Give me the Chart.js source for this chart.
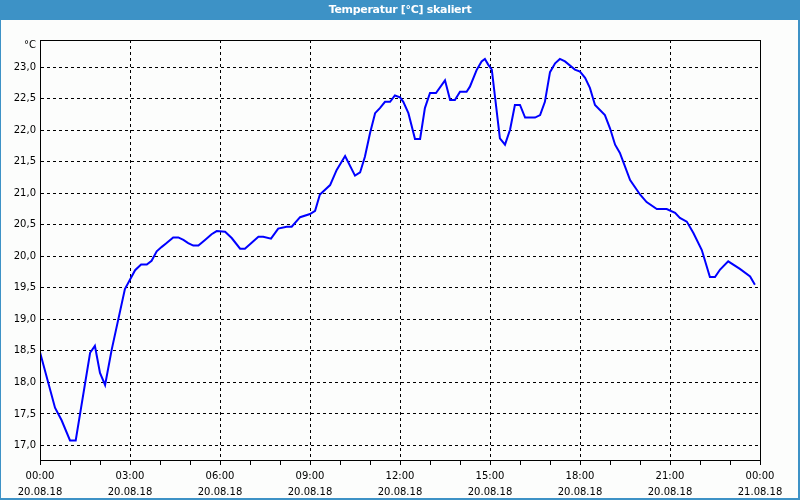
<!DOCTYPE html>
<html>
<head>
<meta charset="utf-8">
<script src="https://cdn.jsdelivr.net/npm/chart.js@4"></script>
<style>
  body { margin: 0; }
  #frame { position: relative; width: 800px; height: 500px; background: #3d92c6; overflow: hidden; }
  #title { position: absolute; left: 0; top: 0; width: 800px; height: 20px; text-align: center;
           color: #fff; font: bold 11px "DejaVu Sans", sans-serif; line-height: 20px; letter-spacing: -0.3px; z-index: 3; }
  #panel { position: absolute; left: 1px; top: 20px; right: 2px; bottom: 2px; background: #fcfdfc; }
  #unit { position: absolute; left: 24px; top: 39px; font: 10px "DejaVu Sans", sans-serif; line-height: 12px; color: #000; z-index: 3; }
  canvas { position: absolute; left: 0; top: 0; z-index: 2; }
</style>
</head>
<body>
<div id="frame">
  <div id="panel"></div>
  <div id="title">Temperatur [°C] skaliert</div>
  <div id="unit">°C</div>
  <canvas id="chart" width="800" height="500"></canvas>
</div>
<script>
// --- Data (hours since 20.08.18 00:00, °C) ---
const hours = [
  0.00, 0.50, 0.72, 1.00, 1.19, 1.67, 1.83, 2.00, 2.17, 2.39, 2.83, 3.17, 3.37, 3.56, 3.72, 3.89,
  4.06, 4.22, 4.44, 4.61, 4.78, 4.94, 5.11, 5.28, 5.50, 5.72, 5.89, 6.17, 6.39, 6.67, 6.83, 7.28,
  7.44, 7.70, 7.94, 8.22, 8.39, 8.67, 9.00, 9.17, 9.33, 9.67, 9.89, 10.17, 10.50, 10.67, 10.83, 11.00,
  11.17, 11.33, 11.50, 11.67, 11.83, 12.00, 12.11, 12.28, 12.50, 12.67, 12.83, 13.00, 13.20, 13.50,
  13.67, 13.83, 14.00, 14.22, 14.33, 14.56, 14.72, 14.83, 14.94, 15.06, 15.33, 15.50, 15.67, 15.83,
  16.00, 16.17, 16.50, 16.67, 16.83, 17.00, 17.17, 17.33, 17.50, 17.83, 18.00, 18.17, 18.33, 18.50,
  18.83, 19.00, 19.17, 19.33, 19.67, 20.00, 20.22, 20.56, 20.89, 21.17, 21.33, 21.56, 21.78, 22.06,
  22.33, 22.50, 22.67, 22.94, 23.33, 23.67, 23.83
];
const temps = [
  18.48, 17.60, 17.40, 17.08, 17.08, 18.47, 18.58, 18.15, 17.96, 18.52, 19.48, 19.78, 19.87, 19.87, 19.93, 20.08,
  20.15, 20.21, 20.30, 20.30, 20.26, 20.21, 20.17, 20.17, 20.26, 20.35, 20.40, 20.39, 20.29, 20.12, 20.12, 20.31,
  20.31, 20.28, 20.44, 20.47, 20.47, 20.62, 20.67, 20.72, 20.98, 21.13, 21.37, 21.59, 21.28, 21.33, 21.58, 21.95,
  22.27, 22.35, 22.45, 22.45, 22.55, 22.52, 22.45, 22.27, 21.86, 21.86, 22.35, 22.59, 22.59, 22.79,
  22.48, 22.48, 22.61, 22.61, 22.69, 22.96, 23.09, 23.13, 23.04, 22.96, 21.87, 21.77, 22.01, 22.40,
  22.40, 22.20, 22.20, 22.24, 22.45, 22.92, 23.06, 23.13, 23.09, 22.96, 22.93, 22.83, 22.67, 22.40,
  22.24, 22.03, 21.77, 21.64, 21.21, 20.98, 20.86, 20.75, 20.75, 20.69, 20.61, 20.55, 20.37, 20.10,
  19.67, 19.67, 19.79, 19.92, 19.80, 19.68, 19.55
];

// --- Axis labels ---
const xTickTimes = ['00:00', '03:00', '06:00', '09:00', '12:00', '15:00', '18:00', '21:00', '00:00'];
const xTickDates = ['20.08.18', '20.08.18', '20.08.18', '20.08.18', '20.08.18', '20.08.18', '20.08.18', '20.08.18', '21.08.18'];
const yTicks = [17.0, 17.5, 18.0, 18.5, 19.0, 19.5, 20.0, 20.5, 21.0, 21.5, 22.0, 22.5, 23.0];

Chart.defaults.font.family = '"DejaVu Sans", sans-serif';
Chart.defaults.font.size = 10;
Chart.defaults.color = '#000';

// solid frame round the plot area
const plotFrame = {
  id: 'plotFrame',
  afterDraw(chart) {
    const { ctx, chartArea: a } = chart;
    ctx.save();
    ctx.strokeStyle = '#000';
    ctx.lineWidth = 1;
    ctx.strokeRect(Math.round(a.left) + 0.5, Math.round(a.top) + 0.5,
                   Math.round(a.right - a.left), Math.round(a.bottom - a.top));
    ctx.restore();
  }
};

new Chart(document.getElementById('chart'), {
  type: 'line',
  data: {
    datasets: [{
      data: hours.map((h, i) => ({ x: h, y: temps[i] })),
      borderColor: '#0000ff',
      borderWidth: 2,
      pointRadius: 0,
      tension: 0,
      fill: false
    }]
  },
  options: {
    responsive: false,
    animation: false,
    layout: { padding: { top: 40, right: 40, left: 0, bottom: 0 } },
    plugins: { legend: { display: false }, tooltip: { enabled: false } },
    scales: {
      x: {
        type: 'linear',
        min: 0,
        max: 24,
        afterFit: s => { s.height = 40; },
        ticks: {
          stepSize: 1,
          autoSkip: false,
          maxRotation: 0,
          padding: 4,
          font: { lineHeight: 1.55 },
          callback: v => v % 3 === 0 ? [xTickTimes[v / 3], xTickDates[v / 3]] : ''
        },
        grid: {
          color: c => (c.tick && c.tick.value % 3 === 0) ? '#000' : 'rgba(0,0,0,0)',
          tickColor: '#000',
          tickLength: 5,
          lineWidth: 1
        },
        border: { color: '#000', width: 1, dash: [3, 3] }
      },
      y: {
        min: 16.77,
        max: 23.43,
        afterFit: s => { s.width = 40; },
        afterBuildTicks: s => { s.ticks = yTicks.map(v => ({ value: v })); },
        ticks: {
          padding: 4,
          callback: v => v.toFixed(1).replace('.', ',')
        },
        grid: { color: '#000', lineWidth: 1, drawTicks: false },
        border: { color: '#000', width: 1, dash: [3, 3] }
      }
    }
  },
  plugins: [plotFrame]
});
</script>
</body>
</html>
